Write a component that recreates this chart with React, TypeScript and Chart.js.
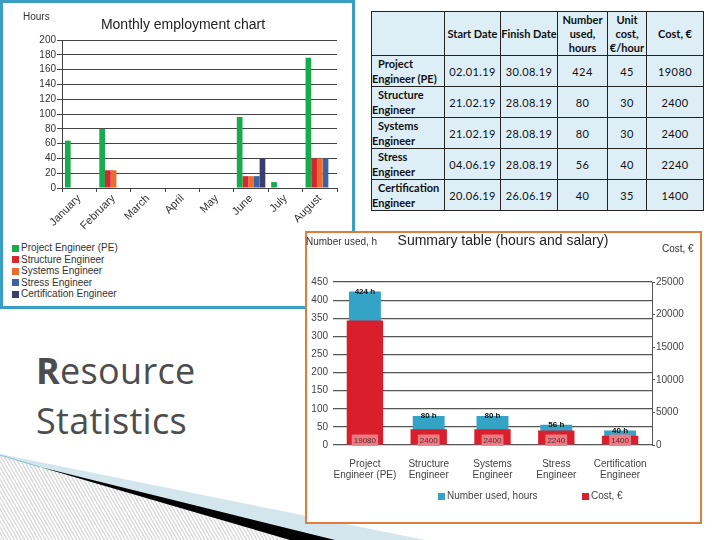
import React, { useEffect, useRef } from "react";
import { Chart, registerables } from "chart.js";

Chart.register(...registerables);

const FONT = '"Liberation Sans", Arial, sans-serif';

// ---------- Monthly employment chart data ----------
const months = ["January", "February", "March", "April", "May", "June", "July", "August"];
const roles = [
  "Project Engineer (PE)",
  "Structure Engineer",
  "Systems Engineer",
  "Stress Engineer",
  "Certification Engineer",
];
const roleColors = ["#19a94f", "#d8262e", "#ee6b2e", "#3b63a1", "#3d3c6f"];
const peHours = [64, 80, 0, 0, 0, 96, 8, 176];
const structureHours = [0, 24, 0, 0, 0, 16, 0, 40];
const systemsHours = [0, 24, 0, 0, 0, 16, 0, 40];
const stressHours = [0, 0, 0, 0, 0, 16, 0, 40];
const certificationHours = [0, 0, 0, 0, 0, 40, 0, 0];
const monthlyMax = 200;
const monthlyStep = 20;

// ---------- Summary chart data ----------
const summaryCategories = [
  ["Project", "Engineer (PE)"],
  ["Structure", "Engineer"],
  ["Systems", "Engineer"],
  ["Stress", "Engineer"],
  ["Certification", "Engineer"],
];
const hoursUsed = [424, 80, 80, 56, 40];
const costEuro = [19080, 2400, 2400, 2240, 1400];
const hoursMax = 450;
const hoursStep = 50;
const costMax = 25000;
const costStep = 5000;
const summaryLegend = ["Number used, hours", "Cost, €"];
const summaryColors = ["#33a4c6", "#da1f2c"];

// ---------- Table data ----------
const tableHeaders = [[""], ["Start Date"], ["Finish Date"], ["Number", "used,", "hours"], ["Unit", "cost,", "€/hour"], ["Cost, €"]];
const startDates = ["02.01.19", "21.02.19", "21.02.19", "04.06.19", "20.06.19"];
const finishDates = ["30.08.19", "28.08.19", "28.08.19", "28.08.19", "26.06.19"];
const unitCosts = [45, 30, 30, 40, 35];

const monthlySeries = [peHours, structureHours, systemsHours, stressHours, certificationHours];

function MonthlyChart() {
  const ref = useRef<HTMLCanvasElement | null>(null);
  useEffect(() => {
    if (!ref.current) return;
    const chart = new Chart(ref.current, {
      type: "bar",
      data: {
        labels: months,
        datasets: roles.map((r, i) => ({
          label: r,
          data: monthlySeries[i],
          backgroundColor: roleColors[i],
          borderWidth: 0,
          categoryPercentage: 0.83,
          barPercentage: 1,
        })),
      },
      options: {
        animation: false,
        responsive: false,
        layout: { padding: { top: 37, right: 15, left: 0, bottom: 0 } },
        plugins: { legend: { display: false }, title: { display: false }, tooltip: { enabled: false } },
        scales: {
          x: {
            grid: { display: true, drawOnChartArea: false, drawTicks: true, tickLength: 4, color: "#444", offset: true },
            border: { display: true, color: "#444" },
            ticks: { font: { family: FONT, size: 11 }, color: "#333", minRotation: 45, maxRotation: 45, autoSkip: false, padding: 0 },
            afterFit: (s: any) => { s.height = 45; },
          },
          y: {
            min: 0,
            max: monthlyMax,
            ticks: { stepSize: monthlyStep, autoSkip: false, font: { family: FONT, size: 10 }, color: "#333", padding: 1 },
            grid: { color: "#444", tickLength: 5, drawTicks: true },
            border: { display: true, color: "#444" },
            afterFit: (s: any) => { s.width = 59; },
          },
        },
      },
    });
    return () => chart.destroy();
  }, []);
  return <canvas ref={ref} width={349} height={230} style={{ position: "absolute", left: 3, top: 3, width: 349, height: 230 }} />;
}

const summaryLabelPlugin = {
  id: "summaryLabels",
  afterDatasetsDraw(chart: any) {
    const ctx = chart.ctx;
    const costMeta = chart.getDatasetMeta(0);
    const hoursMeta = chart.getDatasetMeta(1);
    ctx.save();
    ctx.textAlign = "center";
    ctx.textBaseline = "middle";
    costMeta.data.forEach((bar: any, i: number) => {
      const text = String(costEuro[i]);
      ctx.font = `8px ${FONT}`;
      const w = ctx.measureText(text).width + 4;
      ctx.fillStyle = "rgba(240,128,136,0.95)";
      ctx.fillRect(bar.x - w / 2, bar.base - 10, w, 11.5);
      ctx.fillStyle = "#5a2d2d";
      ctx.fillText(text, bar.x, bar.base - 4);
    });
    hoursMeta.data.forEach((bar: any, i: number) => {
      ctx.font = `bold 8px ${FONT}`;
      ctx.fillStyle = "#111";
      ctx.fillText(`${hoursUsed[i]} h`, bar.x, bar.y);
    });
    ctx.restore();
  },
};

function SummaryChart() {
  const ref = useRef<HTMLCanvasElement | null>(null);
  useEffect(() => {
    if (!ref.current) return;
    const chart = new Chart(ref.current, {
      type: "bar",
      data: {
        labels: summaryCategories,
        datasets: [
          {
            label: summaryLegend[1],
            data: costEuro,
            yAxisID: "yCost",
            backgroundColor: summaryColors[1],
            borderWidth: 0,
            barPercentage: 0.57,
            categoryPercentage: 1,
            grouped: false,
            order: 0,
          },
          {
            label: summaryLegend[0],
            data: hoursUsed,
            yAxisID: "yHours",
            backgroundColor: summaryColors[0],
            borderWidth: 0,
            barPercentage: 0.5,
            categoryPercentage: 1,
            grouped: false,
            order: 1,
          },
        ],
      },
      options: {
        animation: false,
        responsive: false,
        layout: { padding: { top: 49, right: 0, left: 0, bottom: 0 } },
        plugins: { legend: { display: false }, title: { display: false }, tooltip: { enabled: false } },
        scales: {
          x: {
            grid: { display: false },
            border: { display: false },
            ticks: { font: { family: FONT, size: 10, lineHeight: 1.17 }, color: "#444", padding: 5, maxRotation: 0, autoSkip: false },
            afterFit: (s: any) => { s.height = 46; },
          },
          yHours: {
            position: "left",
            min: 0,
            max: hoursMax,
            ticks: { stepSize: hoursStep, autoSkip: false, font: { family: FONT, size: 10 }, color: "#444", padding: 5 },
            grid: { color: "#555", drawTicks: false, lineWidth: 1.2 },
            border: { display: false },
            afterFit: (s: any) => { s.width = 26; },
          },
          yCost: {
            position: "right",
            min: 0,
            max: costMax,
            ticks: { stepSize: costStep, autoSkip: false, font: { family: FONT, size: 10 }, color: "#444", padding: 1, callback: (v: any) => String(v) },
            grid: { drawOnChartArea: false, tickLength: 3, color: "#555" },
            border: { display: true, color: "#555" },
            afterFit: (s: any) => { s.width = 47; },
          },
        },
      },
      plugins: [summaryLabelPlugin],
    });
    return () => chart.destroy();
  }, []);
  return <canvas ref={ref} width={392} height={258} style={{ position: "absolute", left: 307, top: 233, width: 392, height: 258 }} />;
}

const abs = (left: number, top: number, extra: any = {}) => ({ position: "absolute" as const, left, top, whiteSpace: "nowrap" as const, ...extra });

export default function App() {
  const colWidths = [73, 56, 57, 50, 39, 57];
  const rowHeights = [29, 29, 30, 30, 29];
  const cell: any = { border: "1px solid #222", padding: 0, textAlign: "center", verticalAlign: "middle", fontSize: 11, letterSpacing: 0.4 };
  return (
    <div style={{ position: "absolute", left: 0, top: 0, width: 720, height: 540, overflow: "hidden", background: "#fff" }}>
      <svg width={720} height={540} style={{ position: "absolute", left: 0, top: 0 }}>
        <defs>
          <pattern id="hatch" width="3" height="3" patternUnits="userSpaceOnUse" patternTransform="rotate(-30)">
            <rect width="3" height="3" fill="#fff" />
            <line x1="0.5" y1="0" x2="0.5" y2="3" stroke="#cdcdcd" strokeWidth="1" />
          </pattern>
        </defs>
        <polygon points="0,454 425,540 0,540" fill="#d3e6ee" />
        <polygon points="0,456 40,467 290,540 0,540" fill="url(#hatch)" />
        <polygon points="40,467 335,540 290,540" fill="#000" />
        <line x1="0" y1="455" x2="40" y2="467" stroke="#8fc0d2" strokeWidth="1" />
      </svg>

      {/* Left panel */}
      <div style={{ position: "absolute", left: 0, top: 0, width: 355, height: 309, boxSizing: "border-box", border: "3px solid #3a9ec3", background: "#fff" }} />
      <MonthlyChart />
      <div style={abs(23, 11, { font: `10px/12px ${FONT}`, color: "#333" })}>Hours</div>
      <div style={abs(183, 16, { font: `14px/16px ${FONT}`, color: "#222", transform: "translateX(-50%)" })}>Monthly employment chart</div>
      {roles.map((r, i) => (
        <div key={r} style={abs(12, 242 + i * 11.5, { font: `10px/12px ${FONT}`, color: "#333", display: "flex", alignItems: "center" })}>
          <span style={{ display: "inline-block", width: 7, height: 7, background: roleColors[i], marginRight: 2 }} />
          {r}
        </div>
      ))}

      {/* Resource Statistics */}
      <div style={abs(36, 346, { fontFamily: '"Open Sans", sans-serif', fontSize: 36, lineHeight: "50px", color: "#4d4d4d", letterSpacing: 0.3 })}>
        <span style={{ fontWeight: 700 }}>R</span>esource
        <br />
        Statistics
      </div>

      {/* Table */}
      <table
        style={{
          position: "absolute", left: 371, top: 11, width: 332, height: 191, borderCollapse: "collapse", tableLayout: "fixed",
          fontFamily: "Lato, sans-serif", fontSize: 11, color: "#111", background: "#ddeef7",
        }}
      >
        <colgroup>
          {colWidths.map((w, i) => <col key={i} style={{ width: w }} />)}
        </colgroup>
        <thead>
          <tr style={{ height: 44 }}>
            {tableHeaders.map((h, i) => (
              <th key={i} style={{ ...cell, fontSize: 11, letterSpacing: 0, fontWeight: 700, lineHeight: "14px", whiteSpace: "nowrap" }}>
                {h.map((l, j) => <React.Fragment key={j}>{j > 0 && <br />}{l}</React.Fragment>)}
              </th>
            ))}
          </tr>
        </thead>
        <tbody>
          {summaryCategories.map((lines, i) => (
            <tr key={i} style={{ height: rowHeights[i] }}>
              <td style={{ ...cell, fontSize: 11, letterSpacing: 0, textAlign: "left", fontWeight: 700, lineHeight: "15px", whiteSpace: "nowrap" }}>
                <span style={{ paddingLeft: 6 }}>{lines[0]}</span><br />{lines[1]}
              </td>
              <td style={cell}>{startDates[i]}</td>
              <td style={cell}>{finishDates[i]}</td>
              <td style={cell}>{hoursUsed[i]}</td>
              <td style={cell}>{unitCosts[i]}</td>
              <td style={cell}>{costEuro[i]}</td>
            </tr>
          ))}
        </tbody>
      </table>

      {/* Summary panel */}
      <div style={{ position: "absolute", left: 305, top: 231, width: 397, height: 293, boxSizing: "border-box", border: "2px solid #e07d3d", background: "#fff" }} />
      <SummaryChart />
      <div style={abs(306, 236, { font: `10px/12px ${FONT}`, color: "#333" })}>Number used, h</div>
      <div style={abs(503, 232, { font: `14px/16px ${FONT}`, color: "#222", transform: "translateX(-50%)" })}>Summary table (hours and salary)</div>
      <div style={abs(662, 243, { font: `10px/12px ${FONT}`, color: "#333" })}>Cost, €</div>
      {summaryLegend.map((t, i) => (
        <div key={t} style={abs(i === 0 ? 438 : 582, 490, { font: `10px/12px ${FONT}`, color: "#444", display: "flex", alignItems: "center" })}>
          <span style={{ display: "inline-block", width: 7, height: 7, background: summaryColors[i], marginRight: 2 }} />
          {t}
        </div>
      ))}
    </div>
  );
}
